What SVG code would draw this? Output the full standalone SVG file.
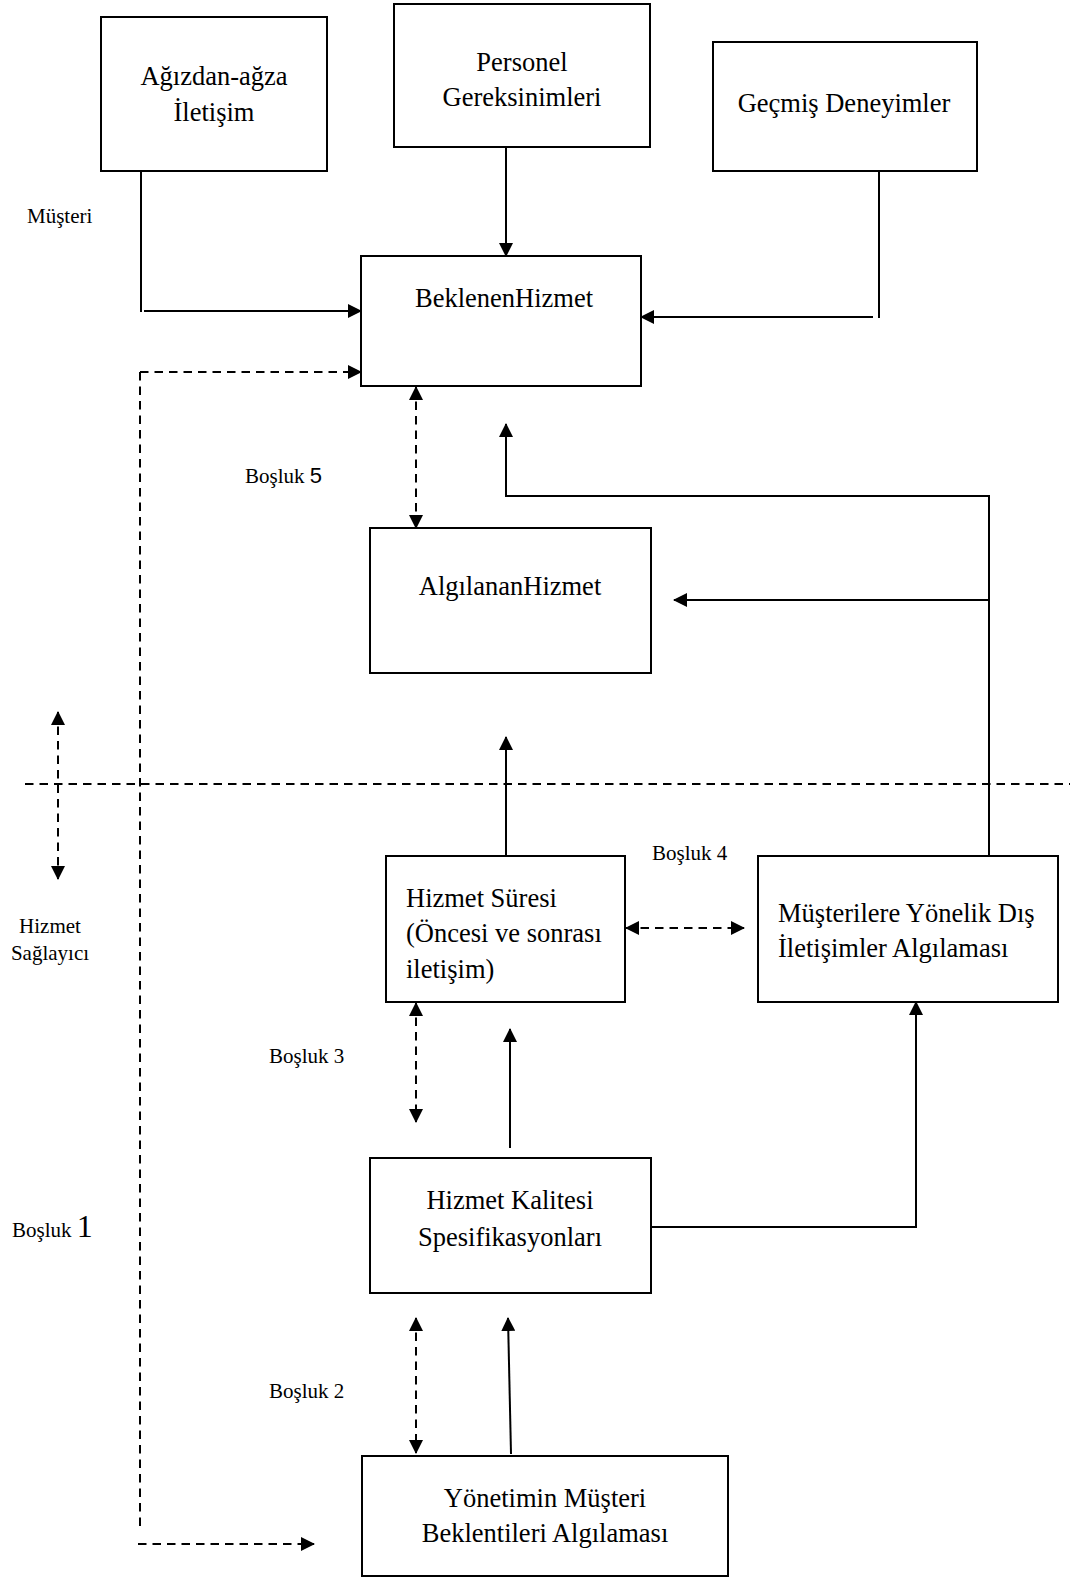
<svg xmlns="http://www.w3.org/2000/svg" width="1070" height="1578" viewBox="0 0 1070 1578">
  <style>
    .box { fill: #ffffff; stroke: #000000; stroke-width: 2; }
    .lbl { font-family: "Liberation Serif", "Times New Roman", serif; font-size: 26.5px; fill: #000000; }
    .mid { text-anchor: middle; }
    .small { font-family: "Liberation Serif", "Times New Roman", serif; font-size: 21px; fill: #000000; }
    .sans { font-family: "Liberation Sans", Arial, sans-serif; font-size: 22px; }
    .ln { fill: none; stroke: #000000; stroke-width: 2; }
    .dash { fill: none; stroke: #000000; stroke-width: 2; stroke-dasharray: 8.5 6; }
  </style>
  <defs>
    <marker id="ah" viewBox="0 0 14 14" markerWidth="14" markerHeight="14" refX="13" refY="7" orient="auto-start-reverse" markerUnits="userSpaceOnUse">
      <path d="M0,0 L14,7 L0,14 z" fill="#000000"/>
    </marker>
  </defs>

  <rect width="1070" height="1578" fill="#ffffff"/>

  <!-- side captions and gap labels -->
  <g id="captions">
    <text class="small" x="27" y="223">Müşteri</text>
    <text class="small mid" x="50" y="933">Hizmet</text>
    <text class="small mid" x="50" y="960">Sağlayıcı</text>
    <text class="small" x="245" y="483">Boşluk <tspan class="sans">5</tspan></text>
    <text class="small" x="652" y="860">Boşluk 4</text>
    <text class="small" x="269" y="1063">Boşluk 3</text>
    <text class="small" x="269" y="1398">Boşluk 2</text>
    <text class="small" x="12" y="1237">Boşluk <tspan font-size="32">1</tspan></text>
  </g>

  <!-- connectors -->
  <g id="connectors">
    <!-- word of mouth -> expected service -->
    <line class="ln" x1="141" y1="171" x2="141" y2="312"/>
    <line class="ln" x1="144" y1="311" x2="361" y2="311" marker-end="url(#ah)"/>
    <!-- personal needs -> expected service -->
    <line class="ln" x1="506" y1="147" x2="506" y2="256" marker-end="url(#ah)"/>
    <!-- past experience -> expected service -->
    <line class="ln" x1="879" y1="171" x2="879" y2="318"/>
    <line class="ln" x1="873" y1="317" x2="641" y2="317" marker-end="url(#ah)"/>
    <!-- gap 1: management perception <-> expected service -->
    <line class="dash" x1="140" y1="372" x2="140" y2="1528"/>
    <line class="dash" x1="140" y1="372" x2="361" y2="372" marker-end="url(#ah)"/>
    <line class="dash" x1="138" y1="1544" x2="314" y2="1544" marker-end="url(#ah)"/>
    <!-- gap 5 -->
    <line class="dash" x1="416" y1="387" x2="416" y2="528" marker-start="url(#ah)" marker-end="url(#ah)"/>
    <!-- external communications feedback -->
    <path class="ln" d="M989,856 V496 H506 V424" marker-end="url(#ah)"/>
    <line class="ln" x1="989" y1="600" x2="674" y2="600" marker-end="url(#ah)"/>
    <!-- customer / provider boundary -->
    <line class="dash" x1="25" y1="784" x2="1070" y2="784"/>
    <line class="dash" x1="58" y1="712" x2="58" y2="879" marker-start="url(#ah)" marker-end="url(#ah)"/>
    <!-- service delivery -> perceived service -->
    <line class="ln" x1="506" y1="856" x2="506" y2="737" marker-end="url(#ah)"/>
    <!-- gap 4 -->
    <line class="dash" x1="626" y1="928" x2="744" y2="928" marker-start="url(#ah)" marker-end="url(#ah)"/>
    <!-- gap 3 -->
    <line class="dash" x1="416" y1="1003" x2="416" y2="1122" marker-start="url(#ah)" marker-end="url(#ah)"/>
    <!-- specifications -> service delivery -->
    <line class="ln" x1="510" y1="1148" x2="510" y2="1029" marker-end="url(#ah)"/>
    <!-- specifications -> external communications -->
    <path class="ln" d="M651,1227 H916 V1002" marker-end="url(#ah)"/>
    <!-- gap 2 -->
    <line class="dash" x1="416" y1="1318" x2="416" y2="1453" marker-start="url(#ah)" marker-end="url(#ah)"/>
    <!-- management perception -> specifications -->
    <line class="ln" x1="511" y1="1454" x2="508" y2="1318" marker-end="url(#ah)"/>
  </g>

  <!-- nodes -->
  <g id="agizdan-agza">
    <rect class="box" x="101" y="17" width="226" height="154"/>
    <text class="lbl mid" x="214" y="85">Ağızdan-ağza</text>
    <text class="lbl mid" x="214" y="121">İletişim</text>
  </g>
  <g id="personel">
    <rect class="box" x="394" y="4" width="256" height="143"/>
    <text class="lbl mid" x="522" y="71">Personel</text>
    <text class="lbl mid" x="522" y="106">Gereksinimleri</text>
  </g>
  <g id="gecmis">
    <rect class="box" x="713" y="42" width="264" height="129"/>
    <text class="lbl mid" x="844" y="112">Geçmiş Deneyimler</text>
  </g>
  <g id="beklenen">
    <rect class="box" x="361" y="256" width="280" height="130"/>
    <text class="lbl mid" x="504" y="307">BeklenenHizmet</text>
  </g>
  <g id="algilanan">
    <rect class="box" x="370" y="528" width="281" height="145"/>
    <text class="lbl mid" x="510" y="595">AlgılananHizmet</text>
  </g>
  <g id="hizmet-suresi">
    <rect class="box" x="386" y="856" width="239" height="146"/>
    <text class="lbl" x="406" y="907">Hizmet Süresi</text>
    <text class="lbl" x="406" y="942">(Öncesi ve sonrası</text>
    <text class="lbl" x="406" y="978">iletişim)</text>
  </g>
  <g id="dis-iletisim">
    <rect class="box" x="758" y="856" width="300" height="146"/>
    <text class="lbl" x="778" y="922">Müşterilere Yönelik Dış</text>
    <text class="lbl" x="778" y="957">İletişimler Algılaması</text>
  </g>
  <g id="kalite">
    <rect class="box" x="370" y="1158" width="281" height="135"/>
    <text class="lbl mid" x="510" y="1209">Hizmet Kalitesi</text>
    <text class="lbl mid" x="510" y="1246">Spesifikasyonları</text>
  </g>
  <g id="yonetim">
    <rect class="box" x="362" y="1456" width="366" height="120"/>
    <text class="lbl mid" x="545" y="1507">Yönetimin Müşteri</text>
    <text class="lbl mid" x="545" y="1542">Beklentileri Algılaması</text>
  </g>
</svg>
